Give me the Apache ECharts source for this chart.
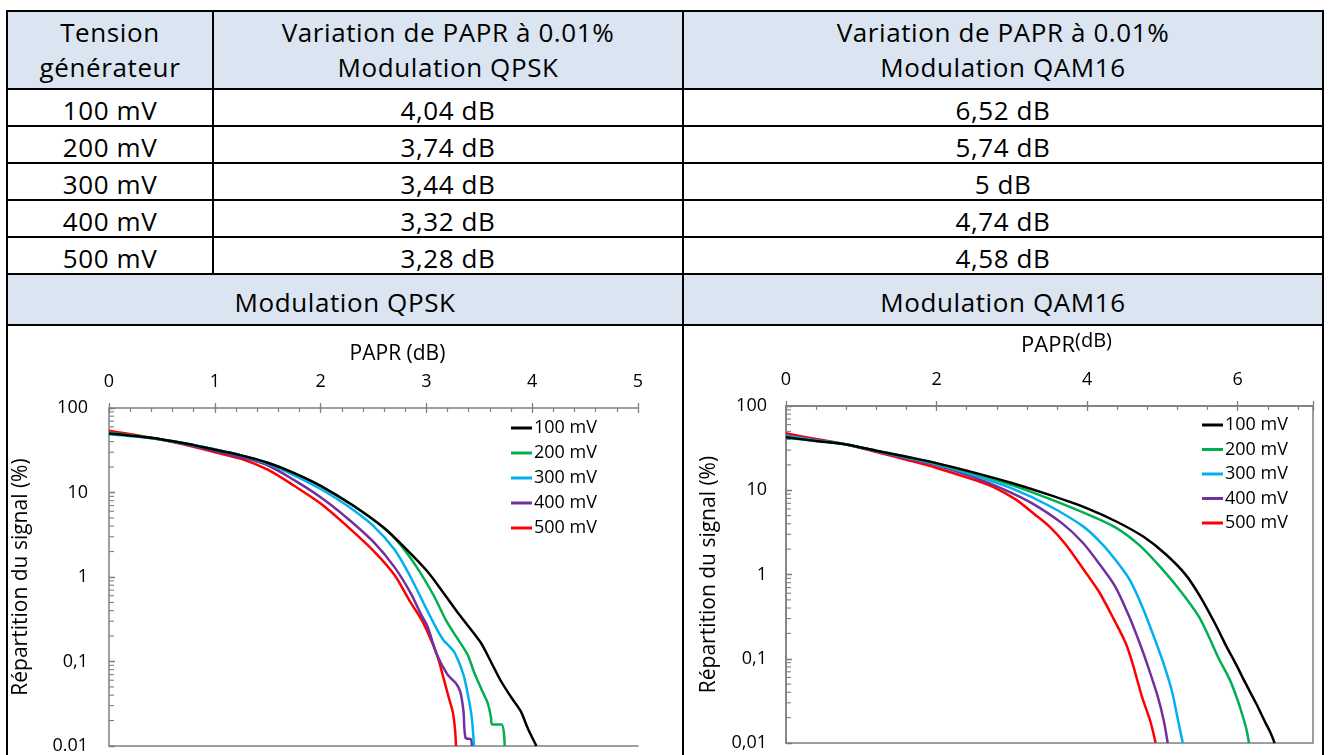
<!DOCTYPE html>
<html lang="fr">
<head>
<meta charset="UTF-8">
<title>Variation de PAPR</title>
<script src="https://cdn.jsdelivr.net/npm/echarts@6/dist/echarts.min.js"></script>
<style>
    html, body { margin: 0; padding: 0; background: #fff; }
    body { width: 1329px; height: 755px; overflow: hidden; position: relative; font-family: 'Open Sans', sans-serif; color: #000; }
    #tab { position: absolute; left: 6px; top: 10px; width: 1318px; border-collapse: collapse; table-layout: fixed; font-size: 26px; letter-spacing: 0.6px; }
    #tab td { border: 2px solid #000; text-align: center; padding: 0; line-height: 35px; }
    #tab tr.hd td { background: #dbe5f1; }
    #tab tr.val td { padding-top: 6px; height: 29px; line-height: 29px; }
    #tab tr.mod td { padding-top: 6px; height: 43px; line-height: 43px; }
    #chart { position: absolute; left: 0; top: 0; width: 1329px; height: 755px; }
</style>
</head>
<body>
<table id="tab">
    <colgroup><col style="width:206px"><col style="width:470px"><col style="width:640px"></colgroup>
    <tbody id="rows"></tbody>
</table>
<div id="chart"></div>
<script>
    // tableau
    var tensions = ['100 mV', '200 mV', '300 mV', '400 mV', '500 mV'];
    var paprQpsk = [4.04, 3.74, 3.44, 3.32, 3.28];
    var paprQam = [6.52, 5.74, 5, 4.74, 4.58];

    var names = tensions;
    var colors = ['#000000', '#00b050', '#00b0f0', '#7030a0', '#ff0000'];

    // courbes QPSK [PAPR dB, %]
    var qpsk100 = [[0,50],[0.25,46.5],[0.5,42.5],[0.75,37.5],[1,32],[1.25,27.5],[1.5,22.5],[1.75,17],[2,12],[2.3,7.1],[2.6,3.8],[2.8,2.2],[3,1.2],[3.15,0.68],[3.31,0.36],[3.51,0.17],[3.6,0.105],[3.7,0.06],[3.8,0.038],[3.89,0.026],[3.96,0.016],[4.04,0.01]];
    var qpsk200 = [[0,51],[0.25,47],[0.5,42.5],[0.75,37.5],[1,32],[1.25,27.5],[1.5,22.5],[1.75,17],[2,12],[2.3,7.1],[2.6,3.8],[2.75,2.45],[2.91,1.3],[3.07,0.6],[3.19,0.3],[3.29,0.19],[3.39,0.12],[3.45,0.075],[3.52,0.047],[3.58,0.032],[3.61,0.022],[3.62,0.018],[3.71,0.018],[3.74,0.01]];
    var qpsk300 = [[0,49],[0.25,46],[0.5,42.5],[0.75,37.5],[1,32.5],[1.25,27.5],[1.5,22],[1.75,16],[2,11],[2.25,7],[2.5,4],[2.7,2.1],[2.85,1],[3,0.42],[3.1,0.24],[3.16,0.18],[3.22,0.15],[3.27,0.125],[3.35,0.07],[3.4,0.036],[3.43,0.021],[3.45,0.01]];
    var qpsk400 = [[0,51],[0.25,46.5],[0.5,42],[0.75,36.5],[1,31],[1.25,26],[1.5,21],[1.75,14],[2,8.8],[2.25,5],[2.5,2.6],[2.7,1.3],[2.85,0.65],[2.95,0.36],[3.01,0.26],[3.1,0.12],[3.2,0.07],[3.28,0.055],[3.32,0.044],[3.35,0.026],[3.37,0.0125],[3.42,0.012],[3.43,0.01]];
    var qpsk500 = [[0,54],[0.25,48],[0.5,42],[0.75,36],[1,30],[1.25,25],[1.5,18.6],[1.75,12],[2,7.4],[2.25,4],[2.5,2.04],[2.7,1.05],[2.85,0.5],[2.95,0.32],[3,0.24],[3.1,0.12],[3.16,0.065],[3.21,0.038],[3.25,0.025],[3.27,0.016],[3.28,0.01]];

    // courbes QAM16
    var qam100 = [[0,42.5],[0.4,38.5],[0.8,35],[1.2,29.5],[1.6,25],[2,21],[2.5,16.2],[3,12.2],[3.5,8.8],[4,6.1],[4.4,4.2],[4.75,2.8],[5.04,1.75],[5.31,0.99],[5.5,0.55],[5.7,0.26],[5.85,0.14],[5.98,0.085],[6.1,0.052],[6.24,0.03],[6.36,0.018],[6.44,0.013],[6.49,0.01]];
    var qam200 = [[0,42],[0.4,38.5],[0.8,35],[1.2,29.5],[1.6,25],[2,20.8],[2.5,15.8],[3,11.5],[3.5,7.9],[4,5.2],[4.38,3.6],[4.7,2.2],[5,1.15],[5.25,0.62],[5.48,0.32],[5.62,0.18],[5.75,0.1],[5.9,0.055],[6,0.032],[6.08,0.019],[6.12,0.014],[6.15,0.01]];
    var qam300 = [[0,44],[0.4,39],[0.8,35],[1.2,29.3],[1.6,24.5],[2,20.3],[2.5,15],[3,10.5],[3.5,6.5],[3.95,3.7],[4.2,2.3],[4.4,1.4],[4.57,0.85],[4.75,0.38],[4.91,0.16],[5.03,0.08],[5.13,0.04],[5.2,0.02],[5.27,0.01]];
    var qam400 = [[0,45],[0.4,39.5],[0.8,35],[1.2,29],[1.6,24],[2,19.8],[2.5,14.2],[2.9,10.2],[3.27,7],[3.66,4.1],[3.94,2.4],[4.2,1.2],[4.38,0.7],[4.55,0.33],[4.69,0.16],[4.8,0.085],[4.94,0.035],[5.02,0.018],[5.07,0.01]];
    var qam500 = [[0,47.4],[0.4,40.5],[0.8,35],[1.2,28.5],[1.6,23],[2,18.4],[2.5,13.3],[2.75,11],[3.05,7.8],[3.3,5.2],[3.5,3.7],[3.71,2.3],[4,1],[4.16,0.62],[4.35,0.3],[4.51,0.155],[4.6,0.09],[4.73,0.035],[4.84,0.018],[4.91,0.01]];

    // étiquettes de l'axe log (0.01 -> 100)
    var qpskYLabels = ['0.01', '0,1', '1', '10', '100'];
    var qamYLabels = ['0,01', '0,1', '1', '10', '100'];

    function dB(v) { return String(v).replace('.', ',') + ' dB'; }

    function buildTable() {
        var h = '';
        h += '<tr class="hd" style="height:78px"><td>Tension<br>générateur</td>'
           + '<td>Variation de PAPR à 0.01%<br>Modulation QPSK</td>'
           + '<td>Variation de PAPR à 0.01%<br>Modulation QAM16</td></tr>';
        for (var i = 0; i < tensions.length; i++) {
            h += '<tr class="val"><td>' + tensions[i] + '</td><td>' + dB(paprQpsk[i]) + '</td><td>' + dB(paprQam[i]) + '</td></tr>';
        }
        h += '<tr class="hd mod"><td colspan="2">Modulation QPSK</td><td>Modulation QAM16</td></tr>';
        h += '<tr style="height:440px"><td colspan="2"></td><td></td></tr>';
        document.getElementById('rows').innerHTML = h;
    }

    var font = 'Open Sans';
    var gray = '#7f7f7f';

    // graduations secondaires du log : 2..9 x 10^d
    var logMinor = [];
    for (var d = -2; d < 2; d++) {
        for (var k = 2; k <= 9; k++) logMinor.push([0, Number((k * Math.pow(10, d)).toPrecision(3))]);
    }

    function logFormatter(labels) {
        return function (v) { return labels[Math.round(Math.log10(v)) + 2]; };
    }

    function mainX(grid, max, step, nameText, gap, pad, size, rich) {
        return {
            gridIndex: grid, type: 'value', position: 'top', min: 0, max: max, interval: step,
            axisLine: { show: true, onZero: false, lineStyle: { color: gray, width: 1.5 } },
            axisTick: { show: true, inside: true, length: 5, lineStyle: { color: gray, width: 1.3 } },
            minorTick: { show: true, splitNumber: 5, length: 4, lineStyle: { color: gray, width: 1.2 } },
            axisLabel: { margin: 17, fontSize: 18, color: '#000', fontFamily: font, showMaxLabel: max === 5 },
            splitLine: { show: false },
            name: nameText, nameLocation: 'middle', nameGap: gap,
            nameTextStyle: { fontSize: size, color: '#000', fontFamily: font, padding: [0, 0, 0, pad], rich: rich }
        };
    }
    function outX(grid, max, step) {
        return {
            gridIndex: grid, type: 'value', position: 'top', min: 0, max: max, interval: step,
            axisLine: { show: false }, axisLabel: { show: false }, splitLine: { show: false },
            axisTick: { show: true, inside: false, length: 5, lineStyle: { color: gray, width: 1.3 } }
        };
    }
    function mainY(grid, labels, margin, gap) {
        return {
            gridIndex: grid, type: 'log', logBase: 10, min: 0.01, max: 100,
            axisLine: { show: true, onZero: false, lineStyle: { color: gray, width: 1.5 } },
            axisTick: { show: true, inside: true, length: 6, lineStyle: { color: gray, width: 1.3 } },
            axisLabel: { margin: margin, fontSize: 18, color: '#000', fontFamily: font, formatter: logFormatter(labels) },
            splitLine: { show: false },
            name: 'Répartition du signal (%)', nameLocation: 'middle', nameGap: gap,
            nameTextStyle: { fontSize: 21, color: '#000', fontFamily: font }
        };
    }
    function outY(grid) {
        return {
            gridIndex: grid, type: 'log', logBase: 10, min: 0.01, max: 100,
            axisLine: { show: false }, axisLabel: { show: false }, splitLine: { show: false },
            axisTick: { show: true, inside: false, length: 6, lineStyle: { color: gray, width: 1.3 } }
        };
    }
    function minorY(xIdx, yIdx) {
        return {
            type: 'custom', xAxisIndex: xIdx, yAxisIndex: yIdx, silent: true, z: 1,
            data: logMinor,
            renderItem: function (params, api) {
                var p = api.coord([0, api.value(1)]);
                return { type: 'line', shape: { x1: p[0], y1: p[1], x2: p[0] + 5, y2: p[1] },
                    style: { stroke: gray, lineWidth: 1.1 } };
            }
        };
    }

    function legend(left, top, gap) {
        return {
            orient: 'vertical', left: left, top: top, data: names,
            icon: 'rect', itemWidth: 21, itemHeight: 3, itemGap: gap,
            textStyle: { fontSize: 18, color: '#000', fontFamily: font, lineHeight: 20, padding: [0, 0, 0, -3] }
        };
    }

    function loadChart() {
        var qpsk = [qpsk100, qpsk200, qpsk300, qpsk400, qpsk500];
        var qam = [qam100, qam200, qam300, qam400, qam500];
        var series = [minorY(0, 0), minorY(3, 2)];
        for (var i = 0; i < names.length; i++) {
            series.push({ name: names[i], type: 'line', xAxisIndex: 0, yAxisIndex: 0, data: qpsk[i],
                showSymbol: false, smooth: 0.3, color: colors[i], lineStyle: { width: 2.5 }, z: 10 - i });
            series.push({ name: names[i], type: 'line', xAxisIndex: 3, yAxisIndex: 2, data: qam[i],
                showSymbol: false, smooth: 0.3, color: colors[i], lineStyle: { width: 2.5 }, z: 10 - i });
        }
        var option = {
            animation: false,
            grid: [
                { left: 109, top: 408, width: 529, height: 340 },
                { left: 786, top: 406, width: 527, height: 337, show: true, borderColor: gray, borderWidth: 1.5 }
            ],
            xAxis: [
                mainX(0, 5, 1, 'PAPR (dB)', 43, 48, 21),
                outX(0, 5, 1),
                { gridIndex: 0, type: 'value', position: 'bottom', min: 0, max: 5,
                  axisLine: { show: true, onZero: false, lineStyle: { color: gray, width: 1.5 } },
                  axisTick: { show: false }, axisLabel: { show: false }, splitLine: { show: false } },
                mainX(1, 7, 2, 'PAPR{s|(dB)}', 45, 34, 22, { s: { fontSize: 20, fontFamily: font, color: '#000', padding: [0, 0, 10, 0] } }),
                outX(1, 7, 2)
            ],
            yAxis: [
                mainY(0, qpskYLabels, 21, 77),
                outY(0),
                mainY(1, qamYLabels, 19, 66),
                outY(1)
            ],
            legend: [legend(506, 413, 5), legend(1197, 410, 4.5)],
            series: series
        };
        var myChart = echarts.init(document.getElementById('chart'));
        myChart.setOption(option);
    }

    buildTable();
    loadChart();
</script>
</body>
</html>
